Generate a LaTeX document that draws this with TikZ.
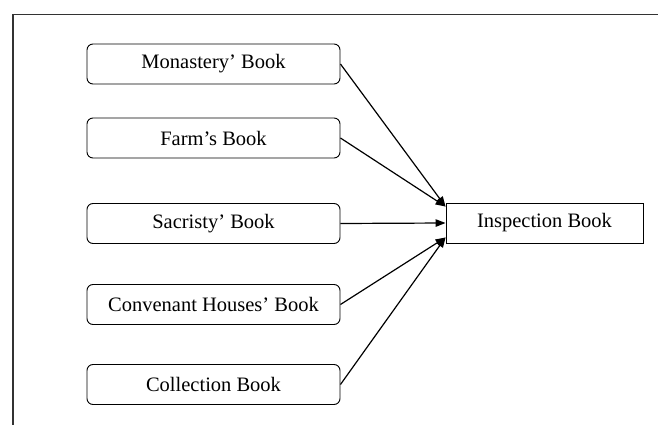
\documentclass[tikz,border=0pt]{standalone}
\usepackage{fontspec}
\setmainfont{Liberation Serif}
\usetikzlibrary{arrows.meta,calc}
\begin{document}
\begin{tikzpicture}[x=1pt,y=-1pt,
  src/.style={draw, line width=0.9pt, rounded corners=6pt, minimum width=253pt, minimum height=40pt, inner sep=0pt, font=\fontsize{20.5}{24}\selectfont},
  dst/.style={draw, line width=0.9pt, minimum width=197pt, minimum height=40pt, inner sep=0pt, font=\fontsize{20.5}{24}\selectfont},
  conn/.style={line width=1.2pt, -{Triangle[length=10pt,width=7.5pt]}}]
\useasboundingbox (0,0) rectangle (658,425);
\coordinate (fr1) at (658,14.5);
\coordinate (fr2) at (13,14.5);
\coordinate (fr3) at (13,425);
\draw[line width=1.3pt, draw=black!80] (fr1) -- (fr2) -- (fr3);
\node[src] (m) at (213.5,64) {Monastery’ Book};
\node[src] (f) at (213.5,138) {Farm’s Book};
\node[src] (s) at (213.5,223.5) {Sacristy’ Book};
\node[src] (c) at (213.5,304.5) {Convenant Houses’ Book};
\node[src] (col) at (213.5,384.5) {Collection Book};
\node[dst] (ins) at (544.5,223) {Inspection Book};
\coordinate (tin) at ($(ins.north west)+(0,4)$);
\coordinate (bin) at ($(ins.south west)+(0,-6)$);
\draw[conn] (m.east) -- (tin);
\draw[conn] (f.east) -- (tin);
\draw[conn] (s.east) -- (ins.west);
\draw[conn] (c.east) -- (bin);
\draw[conn] (col.east) -- (bin);
\end{tikzpicture}
\end{document}
